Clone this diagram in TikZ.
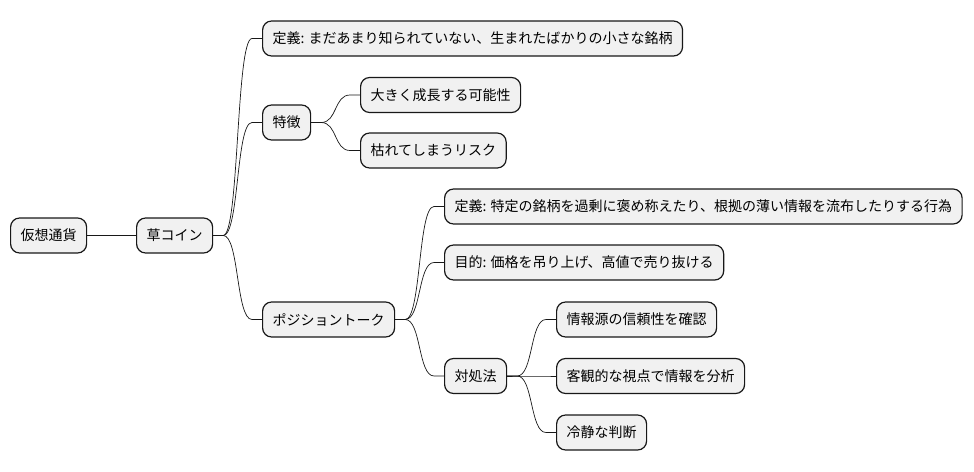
\documentclass[tikz,border=0pt]{standalone}
\usepackage{fontspec}
\setmainfont{Noto Sans CJK JP}
\definecolor{boxfill}{HTML}{F1F1F1}
\definecolor{boxline}{HTML}{181818}
\usetikzlibrary{positioning, calc}

\begin{document}
\begin{tikzpicture}[x=1pt, y=-1pt,
    topic/.style={draw=boxline, fill=boxfill, line width=1.2pt, rounded corners=9pt,
      anchor=west, minimum height=35pt, inner xsep=10pt, font=\fontsize{14}{16}\selectfont},
    branch/.style={draw=boxline, line width=0.7pt}]
    \useasboundingbox (0,0) rectangle (974,471);
    % root and first level
    \node[topic] (kasou)    at (10,235.5)  {仮想通貨};
    \node[topic] (kusa)     at (136,235.5) {草コイン};
    \node[topic] (teigi)    at (262,38.5)  {定義: まだあまり知られていない、生まれたばかりの小さな銘柄};
    \node[topic] (tokuchou) at (262,122.5) {特徴};
    \node[topic] (seichou)  at (360,95)    {大きく成長する可能性};
    \node[topic] (risk)     at (360,150.5) {枯れてしまうリスク};
    \node[topic] (postalk)  at (262,319.5) {ポジショントーク};
    \node[topic] (teigiB)   at (444,206.5) {定義: 特定の銘柄を過剰に褒め称えたり、根拠の薄い情報を流布したりする行為};
    \node[topic] (mokuteki) at (444,262.5) {目的: 価格を吊り上げ、高値で売り抜ける};
    \node[topic] (taisho)   at (444,376)   {対処法};
    \node[topic] (shinrai)  at (556,319.5) {情報源の信頼性を確認};
    \node[topic] (kyakkan)  at (556,376)   {客観的な視点で情報を分析};
    \node[topic] (reisei)   at (556,432.5) {冷静な判断};

    \draw[branch] (kasou.east) -- (kusa.west);
    \foreach \from/\to in {kusa/teigi, kusa/tokuchou, kusa/postalk,
      tokuchou/seichou, tokuchou/risk,
      postalk/teigiB, postalk/mokuteki, postalk/taisho,
      taisho/shinrai, taisho/kyakkan, taisho/reisei}{%
      \draw[branch] (\from.east) -- ++(10,0)
        .. controls +(16,0) and +(-16,0) .. ($(\to.west)+(-10,0)$) -- (\to.west);
    }
  \end{tikzpicture}
\end{document}
